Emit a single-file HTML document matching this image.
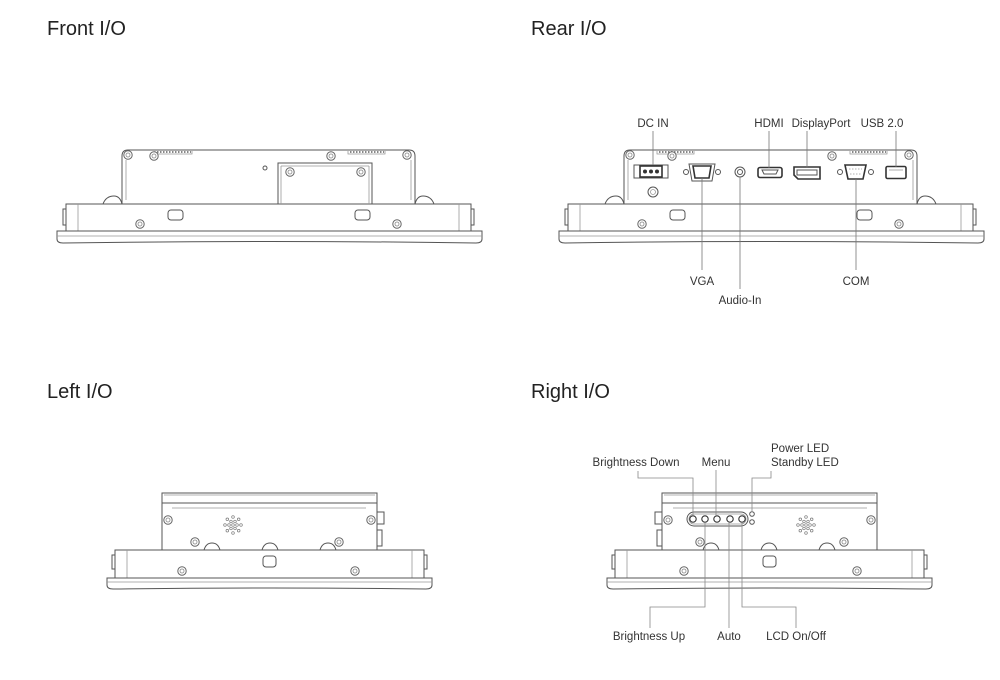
<!DOCTYPE html>
<html><head><meta charset="utf-8"><style>
html,body{margin:0;padding:0;background:#fff;}
svg{display:block;}
.t{font-family:"Liberation Sans",sans-serif;font-size:20px;fill:#222;}
.l{font-family:"Liberation Sans",sans-serif;font-size:11.5px;fill:#333;text-anchor:middle;}
.s{fill:none;stroke:#555;stroke-width:1;}
.d{fill:none;stroke:#999;stroke-width:0.8;}
.k{fill:none;stroke:#333;stroke-width:1.6;}
</style></head><body>
<svg width="1000" height="680" viewBox="0 0 1000 680" xmlns="http://www.w3.org/2000/svg">
<defs>
<g id="scr"><circle r="4.2" fill="#fff" stroke="#666" stroke-width="1"/><circle r="2" fill="none" stroke="#888" stroke-width="0.8"/></g>
<g id="base">
  <!-- box -->
  <path class="s" d="M122,204 V156 Q122,150 128,150 H409 Q415,150 415,156 V204"/>
  <path class="d" d="M126,160 V200 M411,160 V200"/>
  <path class="d" d="M155,151 v3 h37 v-3 M348,151 v3 h37 v-3"/>
  <path d="M157,152h34M350,152h34" stroke="#888" stroke-width="2" stroke-dasharray="1.5 1.5"/>
  <use href="#scr" x="128" y="155"/><use href="#scr" x="407" y="155"/>
  <!-- feet -->
  <path class="s" d="M103,204 Q106,196 114,196 Q120,196 122,204 M415,204 Q417,196 423,196 Q431,196 434,204"/>
  <!-- body -->
  <rect class="s" x="66" y="204" width="405" height="27"/>
  <path class="d" d="M78,204 V231 M459,204 V231"/>
  <path class="s" d="M63,209 h3 v16 h-3z M471,209 h3 v16 h-3z"/>
  <rect class="s" x="168" y="210" width="15" height="10" rx="3"/>
  <rect class="s" x="355" y="210" width="15" height="10" rx="3"/>
  <use href="#scr" x="140" y="224"/><use href="#scr" x="397" y="224"/>
  <!-- lip -->
  <path class="s" d="M57,231 H482 V239 Q482,243 476,243 Q270,240 63,243 Q57,243 57,239 Z"/>
  <path class="d" d="M57,236 H482"/>
</g>
<g id="side">
  <rect class="s" x="162" y="493" width="215" height="57"/>
  <path class="s" d="M162,503 H377"/>
  <path class="d" d="M172,508 H366 M164,495 H375"/>
  <use href="#scr" x="168" y="520"/><use href="#scr" x="371" y="520"/>
  <use href="#scr" x="195" y="542"/><use href="#scr" x="339" y="542"/>
  <g transform="translate(233,525)" fill="none" stroke="#777" stroke-width="0.7">
    <circle r="1.3"/>
    <circle cx="4" r="1.3"/><circle cx="-4" r="1.3"/><circle cx="2" cy="3.5" r="1.3"/><circle cx="-2" cy="3.5" r="1.3"/><circle cx="2" cy="-3.5" r="1.3"/><circle cx="-2" cy="-3.5" r="1.3"/>
    <circle cx="8" r="1.3"/><circle cx="-8" r="1.3"/><circle cx="0" cy="8" r="1.3"/><circle cx="0" cy="-8" r="1.3"/><circle cx="5.7" cy="5.7" r="1.3"/><circle cx="-5.7" cy="5.7" r="1.3"/><circle cx="5.7" cy="-5.7" r="1.3"/><circle cx="-5.7" cy="-5.7" r="1.3"/>
  </g>
  <path class="s" d="M204,550 Q206,543 212,543 Q218,543 220,550 M262,550 Q264,543 270,543 Q276,543 278,550 M320,550 Q322,543 328,543 Q334,543 336,550"/>
  <path class="s" d="M377,512 h7 v12 h-7 M377,530 h5 v16 h-5"/>
  <rect class="s" x="115" y="550" width="309" height="28"/>
  <path class="d" d="M127,550 V578 M412,550 V578"/>
  <path class="s" d="M112,555 h3 v14 h-3z M424,555 h3 v14 h-3z"/>
  <rect class="s" x="263" y="556" width="13" height="11" rx="3"/>
  <use href="#scr" x="182" y="571"/><use href="#scr" x="355" y="571"/>
  <path class="s" d="M107,578 H432 V585 Q432,589 426,589 Q270,587 113,589 Q107,589 107,585 Z"/>
  <path class="d" d="M107,582 H432"/>
</g>
</defs>

<text class="t" x="47" y="35">Front I/O</text>
<text class="t" x="531" y="35">Rear I/O</text>
<text class="t" x="47" y="398">Left I/O</text>
<text class="t" x="531" y="398">Right I/O</text>

<!-- FRONT -->
<use href="#base"/>
<use href="#scr" x="154" y="156"/><use href="#scr" x="331" y="156"/>
<circle cx="265" cy="168" r="2" class="s"/>
<path class="s" d="M278,204 V163 H372 V204"/>
<path class="d" d="M281,166 H369 M281,166 V204 M369,166 V204"/>
<use href="#scr" x="290" y="172"/><use href="#scr" x="361" y="172"/>

<!-- REAR -->
<g transform="translate(502,0)"><use href="#base"/></g>
<use href="#scr" x="672" y="156"/><use href="#scr" x="832" y="156"/>
<rect class="s" x="634" y="165" width="34" height="13"/>
<rect class="k" x="640" y="166" width="22" height="11" stroke-width="1.2"/>
<circle cx="645" cy="171.5" r="2" fill="#333"/><circle cx="651" cy="171.5" r="2" fill="#333"/><circle cx="657" cy="171.5" r="2" fill="#333"/>
<circle cx="653" cy="192" r="5" class="s"/><circle cx="653" cy="192" r="2.5" class="d"/>
<path class="k" d="M693,166 H711 L709,178 H695 Z" stroke-width="1.4"/>
<path class="s" d="M689,164 H715 L712,181 H692 Z"/>
<circle cx="686" cy="172" r="2.5" class="s"/><circle cx="718" cy="172" r="2.5" class="s"/>
<circle cx="740" cy="172" r="5" class="s"/><circle cx="740" cy="172" r="2.5" class="s"/>
<rect x="758" y="167.5" width="24" height="10" rx="2" class="k"/>
<path class="s" d="M762,170 h16 l-2,4 h-12z"/>
<path class="k" d="M794,167 H820 V179 H798 L794,175 Z"/>
<path class="s" d="M797,170 h20 v5 h-20z"/>
<path class="k" d="M845,165 H866 L863,179 H848 Z" stroke-width="1.4"/>
<path class="d" d="M849,169 H862 M850,174 H861" stroke-dasharray="1.5 1.5"/>
<circle cx="840" cy="172" r="2.5" class="s"/><circle cx="871" cy="172" r="2.5" class="s"/>
<rect x="886" y="166.5" width="20" height="12" rx="1.5" class="k"/>
<path class="d" d="M889,170 H903"/>
<g stroke="#777" stroke-width="0.8" fill="none">
<path d="M653,131 V165 M769,131 V168 M807,131 V168 M896,131 V167"/>
<path d="M702,178 V270 M740,177 V289 M856,179 V270"/>
</g>
<text class="l" x="653" y="127">DC IN</text>
<text class="l" x="769" y="127">HDMI</text>
<text class="l" x="821" y="127">DisplayPort</text>
<text class="l" x="882" y="127">USB 2.0</text>
<text class="l" x="702" y="285">VGA</text>
<text class="l" x="740" y="304">Audio-In</text>
<text class="l" x="856" y="285">COM</text>

<!-- LEFT -->
<use href="#side"/>

<!-- RIGHT -->
<g transform="translate(1039,0) scale(-1,1)"><use href="#side"/></g>
<rect x="687" y="512" width="61" height="14" rx="7" class="s"/>
<rect x="689" y="514" width="57" height="10" rx="5" class="d"/>
<g fill="#fff" stroke="#333" stroke-width="1.1">
<circle cx="693" cy="519" r="3.2"/><circle cx="705" cy="519" r="3.2"/><circle cx="717" cy="519" r="3.2"/><circle cx="730" cy="519" r="3.2"/><circle cx="742" cy="519" r="3.2"/>
</g>
<circle cx="752" cy="514" r="2.3" class="s"/><circle cx="752" cy="522" r="2.3" class="s"/>
<g stroke="#888" stroke-width="0.8" fill="none">
<path d="M638,471 V478 H693 V515"/>
<path d="M716,470 V515"/>
<path d="M771,471 V478 H752 V511"/>
<path d="M650,628 V607 H705 V523"/>
<path d="M729,523 V628"/>
<path d="M796,628 V607 H742 V523"/>
</g>
<text class="l" x="636" y="466">Brightness Down</text>
<text class="l" x="716" y="466">Menu</text>
<text class="l" x="771" y="452" style="text-anchor:start">Power LED</text>
<text class="l" x="771" y="466" style="text-anchor:start">Standby LED</text>
<text class="l" x="649" y="640">Brightness Up</text>
<text class="l" x="729" y="640">Auto</text>
<text class="l" x="796" y="640">LCD On/Off</text>
</svg>
</body></html>
